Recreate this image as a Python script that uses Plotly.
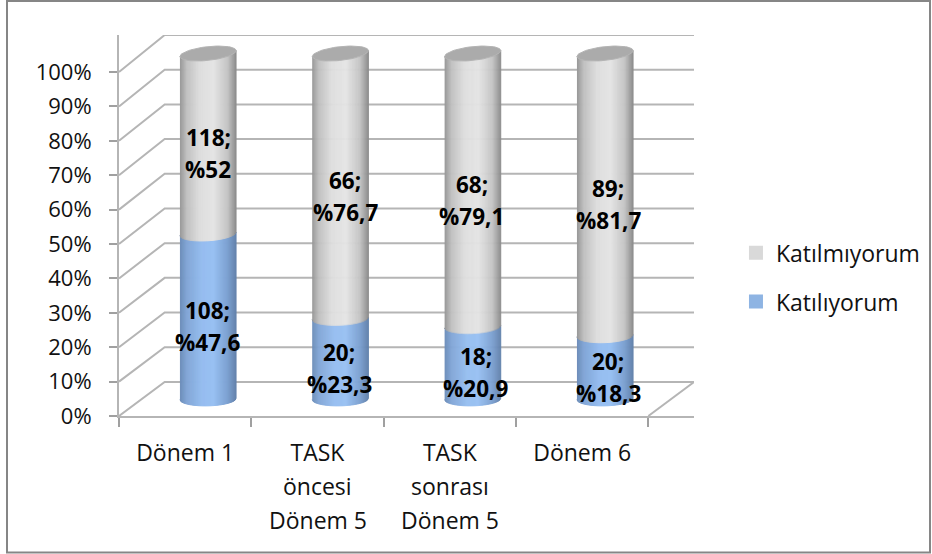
import numpy as np
import plotly.graph_objects as go

categories = ["Dönem 1", "TASK", "TASK", "Dönem 6"]
category_extra_lines = [[], ["öncesi", "Dönem 5"], ["sonrası", "Dönem 5"], []]
agree_counts = [108, 20, 18, 20]
agree_pct = [47.6, 23.3, 20.9, 18.3]
disagree_counts = [118, 66, 68, 89]
disagree_pct = [52, 76.7, 79.1, 81.7]
percent_ticks = list(range(0, 101, 10))
percent_labels = [f"{v}%" for v in percent_ticks]

FONT = "Open Sans, sans-serif"
GRID = "#b5b5b5"
TEXT = "#111111"

# 3-D look of the chart, in axis units
DEPTH_X = 0.345
HALF_W = 0.212
RY = 2.0

# small horizontal nudges of the value labels, in pixels
AGREE_NUDGE = [-1, -1, 3, 3]
DISAGREE_NUDGE = [0, 5, -1, 3]


def depth_y(v):
    return 9.9 + 0.0087 * np.asarray(v, dtype=float)


def lean(v):
    # the ellipses lean a little more towards the top of the chart
    return 0.2 + 0.65 * v / 100


def ramp(stops, t):
    pos = [s[0] for s in stops]
    return "rgb(" + ",".join(
        str(int(round(np.interp(t, pos, [s[1][k] for s in stops])))) for k in range(3)
    ) + ")"


GRAY_RAMP = [(0, (150, 150, 150)), (0.12, (192, 192, 192)), (0.35, (222, 222, 222)),
             (0.6, (228, 228, 228)), (0.85, (196, 196, 196)), (1, (140, 140, 140))]
BLUE_RAMP = [(0, (108, 140, 184)), (0.12, (130, 166, 214)), (0.4, (150, 190, 240)),
             (0.6, (152, 192, 242)), (0.85, (124, 160, 208)), (1, (98, 130, 172))]

fig = go.Figure()

# Walls and floor: each percent level runs from the front axis to the back wall
back_right = 3.5 + DEPTH_X
for v in percent_ticks:
    d = float(depth_y(v))
    fig.add_trace(go.Scatter(
        x=[-0.5, -0.5 + DEPTH_X, back_right], y=[v, v + d, v + d], mode="lines",
        line=dict(color=GRID, width=2), hoverinfo="skip", showlegend=False, cliponaxis=False))
fig.add_trace(go.Scatter(
    x=[3.5, back_right], y=[0, float(depth_y(0))], mode="lines",
    line=dict(color=GRID, width=2), hoverinfo="skip", showlegend=False, cliponaxis=False))


def side_strip(i, lo, hi, s0, s1, color):
    cx = i + DEPTH_X / 2
    s = np.linspace(s0, s1, 3)

    def edge(v):
        c = v + depth_y(v) / 2
        return c + lean(v) * s - RY * np.sqrt(np.clip(1 - s * s, 0, 1))

    xs = np.concatenate([cx + HALF_W * s, cx + HALF_W * s[::-1]])
    ys = np.concatenate([edge(lo), edge(hi)[::-1]])
    fig.add_trace(go.Scatter(
        x=xs, y=ys, mode="lines", fill="toself", fillcolor=color,
        line=dict(color=color, width=1), hoverinfo="skip", showlegend=False, cliponaxis=False))


# Cylinders: vertical strips give each segment its rounded shading
STRIPS = 56
for i in range(len(categories)):
    total = agree_pct[i] + disagree_pct[i]
    boundary = agree_pct[i] / total * 100
    edges = np.linspace(-1, 1, STRIPS + 1)
    for a, b in zip(edges[:-1], edges[1:]):
        t = (a + b + 2) / 4
        side_strip(i, 0, boundary, a, b, ramp(BLUE_RAMP, t))
        side_strip(i, boundary, 100, a, b, ramp(GRAY_RAMP, t))
    theta = np.linspace(0, 2 * np.pi, 60)
    c = 100 + float(depth_y(100)) / 2
    fig.add_trace(go.Scatter(
        x=i + DEPTH_X / 2 + HALF_W * np.cos(theta),
        y=c + lean(100) * np.cos(theta) + RY * np.sin(theta),
        mode="lines", fill="toself", fillcolor="#ababab",
        line=dict(color="#b4b4b4", width=1), hoverinfo="skip", showlegend=False, cliponaxis=False))

# Legend entries
fig.add_trace(go.Scatter(x=[None], y=[None], mode="markers", name="Katılmıyorum", legendgroup="a",
                         marker=dict(symbol="square", size=14, color="#d9d9d9")))
fig.add_trace(go.Scatter(x=[None], y=[None], mode="markers", name="Katılıyorum", legendgroup="b",
                         marker=dict(symbol="square", size=14, color="#8eb4e3")))

annotations = []


def value_label(x, v, count, pct, nudge):
    pct_text = f"%{pct:g}".replace(".", ",")
    for text, shift in ((f"{count};", 6), (pct_text, -26)):
        annotations.append(dict(
            x=x, y=v, xref="x", yref="y", text=text, showarrow=False, yshift=shift, xshift=nudge,
            yanchor="middle",
            font=dict(family=FONT, size=22.5, color="#000000", weight="bold")))


for i in range(len(categories)):
    total = agree_pct[i] + disagree_pct[i]
    boundary = agree_pct[i] / total * 100
    x = i + DEPTH_X / 2
    for lo, hi, n, p, nudge in ((0, boundary, agree_counts[i], agree_pct[i], AGREE_NUDGE[i]),
                                (boundary, 100, disagree_counts[i], disagree_pct[i], DISAGREE_NUDGE[i])):
        mid = (lo + hi) / 2
        value_label(x, mid + float(depth_y(mid)) / 2, n, p, nudge)
    for k, line in enumerate(category_extra_lines[i]):
        annotations.append(dict(
            x=i, y=0, xref="x", yref="paper", text=line, showarrow=False,
            yanchor="middle", yshift=-70.4 - 34 * k,
            font=dict(family=FONT, size=23, color=TEXT)))

fig.update_layout(
    width=932, height=554, autosize=False,
    margin=dict(l=119, r=238, t=35, b=138.4, pad=0, autoexpand=False),
    paper_bgcolor="white", plot_bgcolor="white",
    font=dict(family=FONT, size=21, color=TEXT),
    annotations=annotations,
    legend=dict(x=1.073, y=0.485, xanchor="left", yanchor="top", tracegroupgap=16,
                font=dict(family=FONT, size=23, color=TEXT), bgcolor="rgba(0,0,0,0)"),
    xaxis=dict(range=[-0.5, back_right], tickmode="array", tickvals=list(range(4)), ticktext=categories,
               ticks="", showgrid=False, zeroline=False, showline=True, linecolor=GRID, linewidth=2,
               ticklabelstandoff=15, tickfont=dict(family=FONT, size=23, color=TEXT),
               minor=dict(tickmode="array", tickvals=[-0.5, 0.5, 1.5, 2.5, 3.5], ticks="outside",
                          ticklen=9, tickwidth=1.5, tickcolor="#a0a0a0", showgrid=False)),
    yaxis=dict(range=[0, 110.77], tickmode="array", tickvals=percent_ticks, ticktext=percent_labels,
               ticks="outside", ticklen=8, tickwidth=1.5, tickcolor="#a0a0a0", ticklabelstandoff=13,
               tickfont=dict(family=FONT, size=22, color=TEXT),
               showgrid=False, zeroline=False, showline=True, linecolor=GRID, linewidth=2),
    shapes=[dict(type="rect", xref="paper", yref="paper", layer="below",
                 x0=(7 - 119) / 575, x1=(930 - 119) / 575,
                 y0=(415.6 - 552) / 380.6, y1=(415.6 - 1) / 380.6,
                 line=dict(color="#868686", width=2), fillcolor="white")],
)

fig.write_html("out.html")
